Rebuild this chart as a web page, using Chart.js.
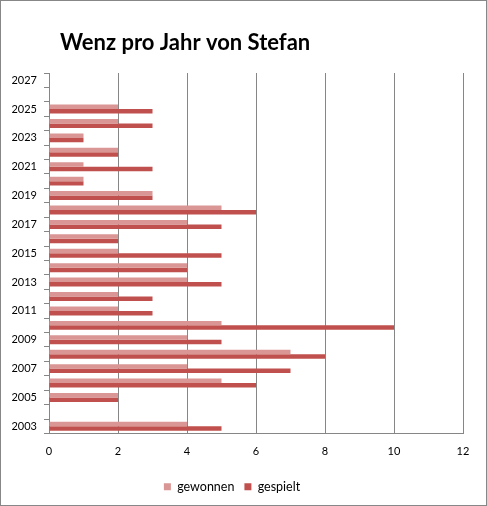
<!DOCTYPE html>
<html>
<head>
<meta charset="utf-8">
<script src="https://cdn.jsdelivr.net/npm/chart.js@4"></script>
<style>
  html, body { margin: 0; padding: 0; background: #fff; }
  #wrap { width: 487px; height: 506px; box-sizing: border-box; border: 1px solid #878787; position: relative; }
  #box { width: 485px; height: 504px; position: relative; }
</style>
</head>
<body>
<div id="wrap"><div id="box"><canvas id="c"></canvas></div></div>
<script>
const chartTitle = "Wenz pro Jahr von Stefan";
const years = ["2003","2004","2005","2006","2007","2008","2009","2010","2011","2012","2013","2014","2015",
               "2016","2017","2018","2019","2020","2021","2022","2023","2024","2025","2026","2027"];
const gewonnen = [4, null, 2, 5, 4, 7, 4, 5, 2, 2, 4, 4, 2, 2, 4, 5, 3, 1, 1, 2, 1, 2, 2, null, null];
const gespielt = [5, null, 2, 6, 7, 8, 5, 10, 3, 3, 5, 4, 5, 2, 5, 6, 3, 1, 3, 2, 1, 3, 3, null, null];
const xTicks = [0, 2, 4, 6, 8, 10, 12];

const gridGray = "#868686";
const FONT = "Lato, 'Open Sans', sans-serif";

const titlePlugin = {
  id: "manualTitle",
  afterDraw(chart) {
    const ctx = chart.ctx;
    ctx.save();
    ctx.font = "bold 22px " + FONT;
    ctx.fillStyle = "#000";
    ctx.textBaseline = "alphabetic";
    ctx.textAlign = "left";
    ctx.fillText(chartTitle, 59, 48.5);
    ctx.restore();
  }
};

new Chart(document.getElementById("c"), {
  type: "bar",
  data: {
    labels: years,
    datasets: [
      { label: "gewonnen", data: gewonnen, backgroundColor: "#D99694", borderWidth: 0 },
      { label: "gespielt", data: gespielt, backgroundColor: "#C0504D", borderWidth: 0 }
    ]
  },
  options: {
    indexAxis: "y",
    responsive: true,
    maintainAspectRatio: false,
    animation: false,
    datasets: { bar: { categoryPercentage: 0.62, barPercentage: 1.0 } },
    layout: { padding: { top: 72, right: 23, bottom: 2, left: 0 } },
    scales: {
      y: {
        type: "category",
        reverse: true,
        afterFit: s => { s.width = 48; },
        grid: { display: true, drawOnChartArea: false, drawTicks: true, tickLength: 5, color: gridGray, offset: true },
        border: { display: true, color: gridGray },
        ticks: {
          autoSkip: false,
          padding: 7,
          color: "#000",
          font: { family: FONT, size: 11 },
          callback: function (v, i) { const y = years[i]; return (Number(y) % 2 === 1) ? y : ""; }
        }
      },
      x: {
        min: 0, max: 12,
        afterFit: s => { s.height = 37; },
        afterBuildTicks: s => { s.ticks = xTicks.map(v => ({ value: v })); },
        grid: { color: gridGray, drawTicks: false },
        border: { display: true, color: gridGray },
        ticks: { padding: 11, color: "#000", font: { family: FONT, size: 11 } }
      }
    },
    plugins: {
      title: { display: false },
      tooltip: { enabled: false },
      legend: {
        position: "bottom",
        labels: { boxWidth: 7, boxHeight: 7, padding: 10, color: "#000", font: { family: FONT, size: 12.5 } }
      }
    }
  },
  plugins: [titlePlugin]
});
</script>
</body>
</html>
